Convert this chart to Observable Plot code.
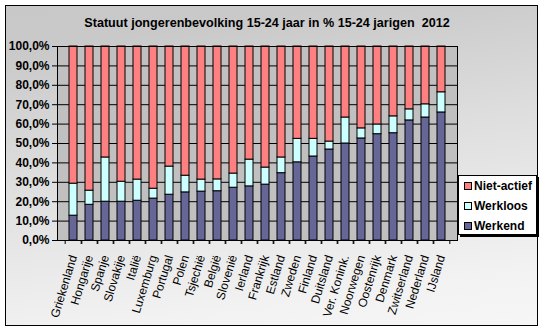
<!DOCTYPE html>
<html><head><meta charset="utf-8">
<script src="https://cdn.jsdelivr.net/npm/d3@7"></script>
<script src="https://cdn.jsdelivr.net/npm/@observablehq/plot@0.6"></script>
<style>
html,body{margin:0;padding:0;background:#fff;}
#chart{position:relative;width:543px;height:330px;overflow:hidden;font-family:"Liberation Sans",Arial,sans-serif;}
#bg{position:absolute;left:5px;top:5px;width:531px;height:319px;border:1px solid #000;
  background:linear-gradient(172deg,#c8c8c8 0%,#c9c9c9 12%,#dedede 45%,#f2f2f2 85%,#f6f6f6 100%);}
#title{position:absolute;left:0;width:534px;top:16px;text-align:center;font-weight:bold;font-size:12.6px;white-space:pre;color:#000;}
#plot{position:absolute;left:0;top:0;}
#legend{position:absolute;left:458px;top:175px;width:77px;height:58px;background:#fff;border:1px solid #000;box-shadow:2px 2px 0 #000;}
.li{position:absolute;left:5px;font-weight:bold;font-size:12px;line-height:14px;white-space:nowrap;}
.sw{display:inline-block;width:6px;height:6px;border:1px solid #000;margin-right:2px;vertical-align:0px;}
</style></head>
<body>
<div id="chart">
  <div id="bg"></div>
  <div id="title">Statuut jongerenbevolking 15-24 jaar in % 15-24 jarigen  2012</div>
  <div id="plot"></div>
  <div id="legend"></div>
</div>
<script>
const countries = ["Griekenland","Hongarije","Spanje","Slovakije","Italië","Luxemburg","Portugal","Polen","Tsjechië","België","Slovenië","Ierland","Frankrijk","Estland","Zweden","Finland","Duitsland","Ver. Konink.","Noorwegen","Oostenrijk","Denmark","Zwitserland","Nederland","IJsland"];
const werkend    = [12.8,18.4,20.0,20.0,20.5,21.6,23.6,24.8,25.2,25.4,27.2,27.9,28.8,34.7,40.3,43.3,46.9,50.0,52.6,54.8,55.3,61.9,63.4,66.0];
const werkloos   = [16.5, 7.3,22.8,10.3,10.9, 5.1,14.5, 8.6, 6.2, 6.1, 7.3,13.8, 8.8, 8.1,12.1, 9.1, 4.1,13.4, 5.2, 5.0, 8.7, 5.7, 6.8,10.4];
const nietActief = [70.7,74.3,57.2,69.7,68.6,73.3,61.9,66.6,68.6,68.5,65.5,58.3,62.4,57.2,47.6,47.6,49.0,36.6,42.2,40.2,36.0,32.4,29.8,23.6];
const seriesNames = ["Niet-actief","Werkloos","Werkend"];
const seriesColors = ["#FF8080","#CCFFFF","#666699"];
const yTicks = [0,10,20,30,40,50,60,70,80,90,100];

const rows = [];
countries.forEach((c,i)=>rows.push({country:c, series:"Werkend", value:werkend[i]}));
countries.forEach((c,i)=>rows.push({country:c, series:"Werkloos", value:werkloos[i]}));
countries.forEach((c,i)=>rows.push({country:c, series:"Niet-actief", value:nietActief[i]}));

const W = 543, H = 330, mL = 57, mR = 86, mT = 46, mB = 90;
const step = (W - mL - mR) / countries.length;
const fmt = d => d3.format(".1f")(d).replace(".", ",") + "%";

const chart = Plot.plot({
  width: W, height: H,
  marginLeft: mL, marginRight: mR, marginTop: mT, marginBottom: mB,
  style: {background: "transparent", fontFamily: "'Liberation Sans', Arial, sans-serif", color: "#000"},
  x: {domain: countries, paddingInner: 0.5, paddingOuter: 0.25, axis: null, label: null},
  y: {domain: [0, 100], axis: null, label: null},
  color: {domain: seriesNames, range: seriesColors},
  marks: [
    Plot.frame({fill: "#C0C0C0"}),
    Plot.gridY(yTicks, {stroke: "#000", strokeOpacity: 1}),
    Plot.barY(rows, {x: "country", y: "value", fill: "series", stroke: "#000", strokeWidth: 1}),
    Plot.frame({stroke: "#000"}),
    Plot.axisY(yTicks, {tickSize: 5, tickPadding: 3, tickFormat: fmt, fontSize: 12, fontWeight: "bold", label: null}),
    Plot.axisX({tickSize: 4, tickFormat: () => "", dx: -step/2, label: null}),
    Plot.axisX({tickSize: 4, tickFormat: () => "", dx: step/2, label: null}),
    Plot.axisX({tickSize: 0, tickPadding: 15, tickRotate: -73, fontSize: 12, label: null})
  ]
});
document.getElementById("plot").appendChild(chart);

const legend = document.getElementById("legend");
seriesNames.forEach((s,i)=>{
  const d = document.createElement("div");
  d.className = "li";
  d.style.top = (3 + i*20) + "px";
  d.innerHTML = `<span class="sw" style="background:${seriesColors[i]}"></span>${s}`;
  legend.appendChild(d);
});
</script>
</body></html>
